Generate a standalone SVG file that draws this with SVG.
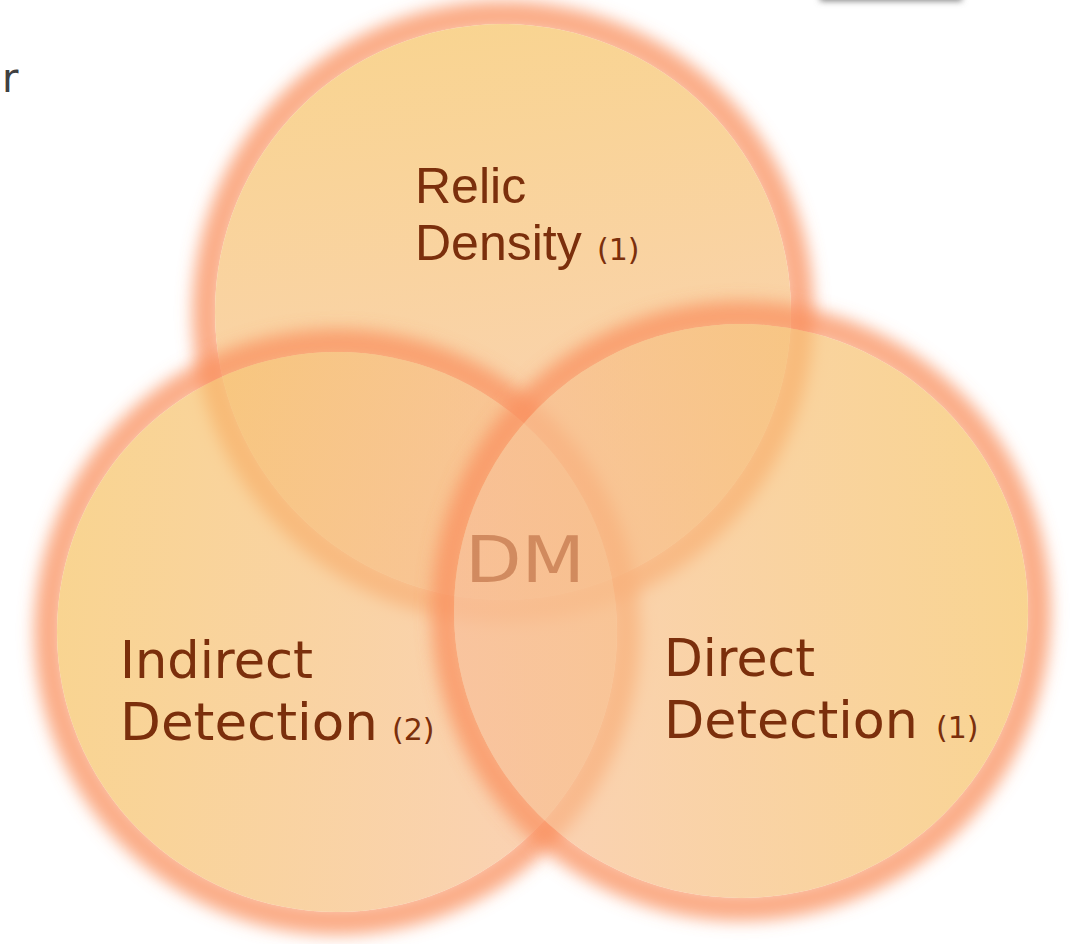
<svg xmlns="http://www.w3.org/2000/svg" width="1081" height="944" viewBox="0 0 1081 944">
<style>
.lbl{font-family:"DejaVu Sans","Liberation Sans",sans-serif;font-size:51px;fill:#7B2F0C}
.top{font-family:"Liberation Sans","DejaVu Sans",sans-serif;font-size:50px}
.sm{font-size:30px}
.dm{font-family:"DejaVu Sans","Liberation Sans",sans-serif;font-size:64px;fill:#C07448;fill-opacity:0.7}
.glow{fill:none;stroke:#F9915F;stroke-width:30;stroke-opacity:0.75;filter:url(#blur)}
.fill{fill-opacity:0.7}
</style>
<defs>
<filter id="blur" x="-20%" y="-20%" width="140%" height="140%"><feGaussianBlur stdDeviation="8"/></filter>
<filter id="sh" x="-20%" y="-50%" width="140%" height="300%"><feGaussianBlur stdDeviation="3"/></filter>
<mask id="mTop"><rect x="0" y="-50" width="1081" height="1050" fill="#fff"/><circle cx="503" cy="312" r="288" fill="#000"/></mask>
<mask id="mLeft"><rect x="0" y="-50" width="1081" height="1050" fill="#fff"/><circle cx="337" cy="632" r="280" fill="#000"/></mask>
<mask id="mRight"><rect x="0" y="-50" width="1081" height="1050" fill="#fff"/><circle cx="741" cy="611" r="287" fill="#000"/></mask>
<linearGradient id="gTop" x1="0.4" y1="0" x2="0.55" y2="1">
<stop offset="0" stop-color="#F6C262"/><stop offset="1" stop-color="#F8BE98"/></linearGradient>
<linearGradient id="gLeft" x1="0" y1="0.45" x2="1" y2="0.55">
<stop offset="0" stop-color="#F6C262"/><stop offset="1" stop-color="#F8BE98"/></linearGradient>
<linearGradient id="gRight" x1="1" y1="0.45" x2="0" y2="0.55">
<stop offset="0" stop-color="#F6C262"/><stop offset="1" stop-color="#F8BE98"/></linearGradient>
</defs>
<rect width="1081" height="944" fill="#FFFFFF"/>
<g id="fragment-text"><text x="2" y="92" font-family="DejaVu Sans,sans-serif" font-size="40" fill="#404040">r</text></g>
<g id="fragment-box">
<rect x="820" y="-20" width="142" height="21" fill="#808080" filter="url(#sh)"/>
<rect x="820" y="-20" width="142" height="18" fill="#FFFFFF"/>
</g>
<g id="relic-density">
<g mask="url(#mTop)"><circle class="glow" cx="503" cy="312" r="296"/></g>
<circle class="fill" cx="503" cy="312" r="288" fill="url(#gTop)"/>
</g>
<g id="indirect-detection">
<g mask="url(#mLeft)"><circle class="glow" cx="337" cy="632" r="288"/></g>
<circle class="fill" cx="337" cy="632" r="280" fill="url(#gLeft)"/>
</g>
<g id="direct-detection">
<g mask="url(#mRight)"><circle class="glow" cx="741" cy="611" r="295"/></g>
<circle class="fill" cx="741" cy="611" r="287" fill="url(#gRight)"/>
</g>
<g id="connectors"/>
<g id="labels">
<text class="lbl top" x="415" y="203">Relic</text>
<text class="lbl top" x="415" y="260">Density</text>
<text class="lbl sm" x="597" y="260">(1)</text>
<text class="lbl" x="120" y="678" textLength="193" lengthAdjust="spacingAndGlyphs">Indirect</text>
<text class="lbl" x="120" y="740" textLength="258" lengthAdjust="spacingAndGlyphs">Detection</text>
<text class="lbl sm" x="392" y="740">(2)</text>
<text class="lbl" x="664" y="676" textLength="151" lengthAdjust="spacingAndGlyphs">Direct</text>
<text class="lbl" x="664" y="738" textLength="254" lengthAdjust="spacingAndGlyphs">Detection</text>
<text class="lbl sm" x="936" y="738">(1)</text>
<text class="dm" x="465" y="582" textLength="120" lengthAdjust="spacingAndGlyphs">DM</text>
</g>
</svg>
